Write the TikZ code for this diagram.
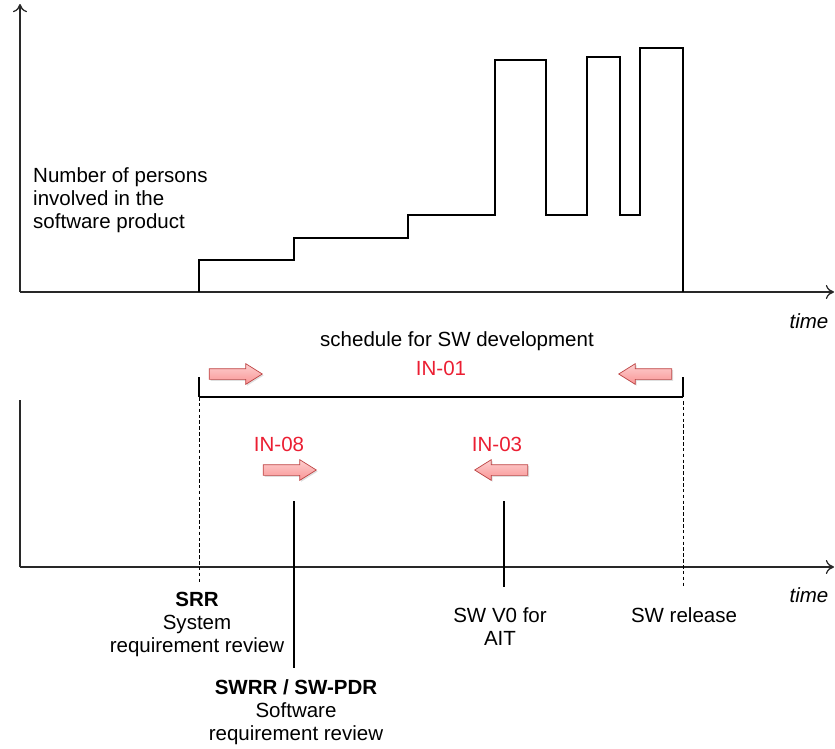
\documentclass[tikz,border=0pt]{standalone}
\usepackage{fontspec}
\setmainfont{Liberation Sans}
\usetikzlibrary{shapes.arrows,arrows.meta,shadows}
\definecolor{axisgray}{RGB}{40,40,40}
\definecolor{tagred}{RGB}{235,30,50}
\definecolor{arrowfill}{RGB}{250,175,175}
\definecolor{arrowedge}{RGB}{190,70,70}
\begin{document}
\begin{tikzpicture}[x=0.03cm,y=-0.03cm,
  axis/.style={draw=axisgray,line width=1.1pt},
  axisarrow/.style={axis,-{To[length=7pt,width=12pt,line width=1.1pt]}},
  stairs/.style={draw=black,line width=1pt},
  mark line/.style={draw=black,line width=1pt},
  dash line/.style={draw=black,line width=0.8pt,dash pattern=on 3pt off 2pt},
  lbl/.style={font=\fontsize{17.5}{19.6}\selectfont,text=black,inner sep=0pt,align=center},
  timelbl/.style={font=\fontsize{17.5}{19.6}\selectfont\itshape,inner sep=0pt},
  tag/.style={font=\fontsize{17.5}{19.6}\selectfont,text=tagred,inner sep=0pt},
  blockarrow/.style={single arrow,draw=arrowedge,line width=0.6pt,
    top color=arrowfill!60!white,bottom color=arrowfill!85!red,
    minimum height=53*0.03cm,
    inner xsep=0pt,inner ysep=5*0.03cm,
    single arrow head extend=5*0.03cm,single arrow tip angle=64,
    outer sep=0pt,
    drop shadow={shadow xshift=1.2pt,shadow yshift=-1.2pt,opacity=0.25}},
  blockleft/.style={blockarrow,shape border rotate=180}]
\useasboundingbox (0,0) rectangle (835,748);

% ---------- staffing profile ----------
\coordinate (yA0) at (20,292);
\coordinate (yA1) at (20,4);
\coordinate (xA1) at (834,292);
\draw[axisarrow] (yA0) -- (yA1);
\draw[axisarrow] (yA0) -- (xA1);
\draw[stairs] (199,292) |- (294,260) |- (408,238) |- (495,215) |- (546,60)
  |- (587,215) |- (620,57) |- (640,215) |- (683,48) -- (683,292);
\node[lbl,align=left,anchor=north west] (persons) at (33,167)
  {Number of persons\\involved in the\\software product};
\node[timelbl] (time1) at (809,321) {time};

% ---------- schedule ----------
\node[lbl] (sched) at (457,341) {schedule for SW development};
\node[tag] (in01) at (441,368) {IN-01};
\coordinate (sL) at (199,397);
\coordinate (sR) at (683,397);
\coordinate (sLt) at (199,377);
\coordinate (sRt) at (683,377);
\draw[mark line] (sL) -- (sR);
\draw[mark line] (sLt) -- (sL);
\draw[mark line] (sRt) -- (sR);
\node[blockarrow] (a1) at (231.5,374) {};
\node[blockleft] (a2) at (649.5,374) {};

\node[tag] (in08) at (279,444) {IN-08};
\node[blockarrow] (a8) at (285.5,470) {};
\node[tag] (in03) at (497,444) {IN-03};
\node[blockleft] (a3) at (505.5,470) {};

% ---------- milestone axis ----------
\coordinate (yB0) at (20,567);
\coordinate (yB1) at (20,400);
\coordinate (xB1) at (834,567);
\draw[axis] (yB0) -- (yB1);
\draw[axisarrow] (yB0) -- (xB1);
\node[timelbl] (time2) at (809,595) {time};

\node[lbl,anchor=north] (srr) at (197,592)
  {\textbf{SRR}\\System\\requirement review};
\node[lbl,anchor=north] (swrr) at (296,679)
  {\textbf{SWRR / SW-PDR}\\Software\\requirement review};
\node[lbl,anchor=north] (v0) at (500,607) {SW V0 for\\AIT};
\node[lbl,anchor=north] (rel) at (684,607) {SW release};

\coordinate (pSWRR) at (294,501);
\coordinate (pV0) at (504,501);
\coordinate (srrTop) at (199,584);
\coordinate (swrrTop) at (294,668);
\coordinate (v0Top) at (504,587);
\coordinate (relTop) at (683,587);
\draw[dash line] (sL) -- (srrTop);
\draw[mark line] (pSWRR) -- (swrrTop);
\draw[mark line] (pV0) -- (v0Top);
\draw[dash line] (683,401) -- (relTop);
\end{tikzpicture}
\end{document}
